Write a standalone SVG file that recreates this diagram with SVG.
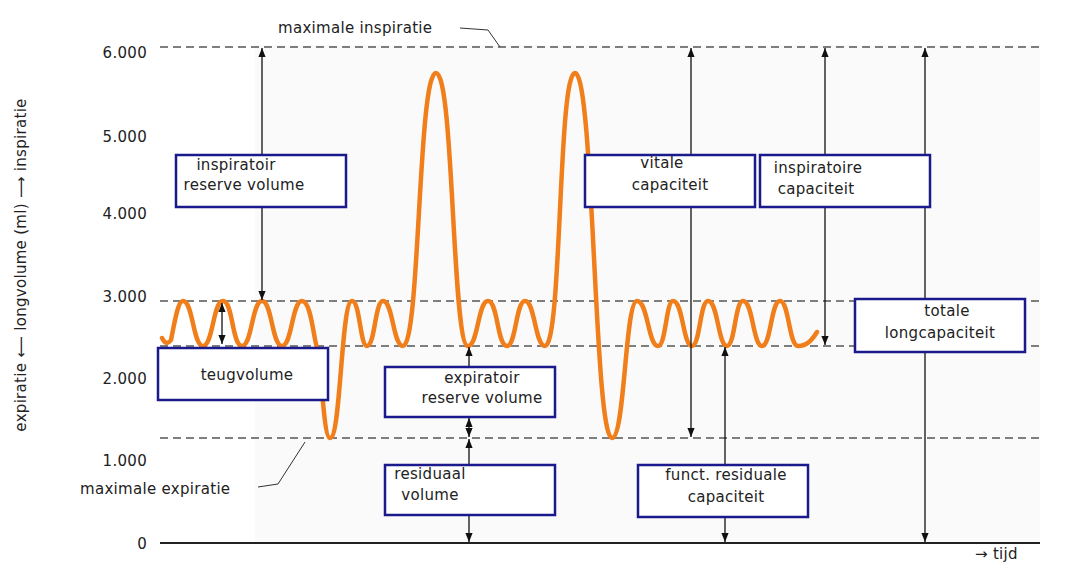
<svg xmlns="http://www.w3.org/2000/svg" width="1076" height="586" viewBox="0 0 1076 586">
<defs>
<marker id="ah" viewBox="0 0 10 10" refX="10" refY="5" markerWidth="7" markerHeight="7" orient="auto-start-reverse"><path d="M0,1 L10,5 L0,9 z" fill="#111"/></marker>
<style>
text{font-family:"DejaVu Sans","Liberation Sans",sans-serif;font-size:15px;fill:#222;letter-spacing:0.3px}
.d{stroke:#555;stroke-width:1.3;stroke-dasharray:8,5;fill:none}
.a{stroke:#111;stroke-width:1.3;fill:none;marker-start:url(#ah);marker-end:url(#ah)}
.b{fill:#fff;stroke:#1a1a8c;stroke-width:2.5}
</style>
</defs>
<rect width="1076" height="586" fill="#fff"/>
<rect x="255" y="45" width="785" height="498" fill="#fafafa"/>
<g id="axis">
<line class="d" x1="160" y1="47" x2="1040" y2="47"/>
<line class="d" x1="160" y1="301" x2="1040" y2="301"/>
<line class="d" x1="160" y1="346" x2="1040" y2="346"/>
<line class="d" x1="160" y1="438" x2="1040" y2="438"/>
<line x1="160" y1="543" x2="1040" y2="543" stroke="#222" stroke-width="2"/>
<text x="147" y="58" text-anchor="end">6.000</text>
<text x="147" y="142" text-anchor="end">5.000</text>
<text x="147" y="219" text-anchor="end">4.000</text>
<text x="147" y="302" text-anchor="end">3.000</text>
<text x="147" y="384" text-anchor="end">2.000</text>
<text x="147" y="466" text-anchor="end">1.000</text>
<text x="147" y="549" text-anchor="end">0</text>
<text transform="translate(26,265) rotate(-90)" text-anchor="middle">expiratie ⟵ longvolume (ml) ⟶ inspiratie</text>
<text x="975" y="559">→ tijd</text>
<text x="278" y="33">maximale inspiratie</text>
<path d="M460,28 L488,30 L500,47" stroke="#333" fill="none"/>
<text x="80" y="494">maximale expiratie</text>
<path d="M258,487 L278,484 L305,442" stroke="#333" fill="none"/>
</g>
<path id="curve" fill="none" stroke="#f07e1a" stroke-width="4.5" stroke-linecap="round" d="M162,338 C165,344 168,344 171,340 C175,320 178,301 183,301 C193,301 193,346 203,346 C213,346 213,301 223,301 C233,301 232,346 242,346 C252,346 252,301 262,301 C272,301 272,346 282,346 C292,346 292,301 302,301 C312,301 314,346 318,350 C322,380 324,438 330,438 C341,438 341,301 352,301 C360,301 360,346 367,346 C375,346 375,301 383,301 C393,301 393,346 403,346 C420,346 418,73 436,73 C454,73 452,346 468,346 C478,346 478,301 488,301 C498,301 497,346 507,346 C516,346 516,301 525,301 C535,301 535,346 545,346 C562,346 558,73 575,73 C594,73 594,438 612,438 C625,438 625,301 637,301 C648,301 648,346 658,346 C666,346 666,301 673,301 C683,301 683,346 692,346 C700,346 700,301 708,301 C718,301 718,346 727,346 C735,346 735,301 743,301 C753,301 753,346 762,346 C771,346 771,301 780,301 C789,301 789,346 798,346 C807,346 812,340 817,332"/>
<g id="connectors">
<line class="a" x1="262" y1="48" x2="262" y2="300"/>
<line class="a" x1="222" y1="303" x2="222" y2="344"/>
<line x1="469" y1="347" x2="469" y2="367" stroke="#111" stroke-width="1.3" marker-start="url(#ah)"/>
<line class="a" x1="469" y1="418" x2="469" y2="437"/>
<line class="a" x1="469" y1="439" x2="469" y2="542"/>
<line class="a" x1="691" y1="48" x2="691" y2="437"/>
<line class="a" x1="725" y1="347" x2="725" y2="542"/>
<line class="a" x1="825" y1="48" x2="825" y2="345"/>
<line class="a" x1="925" y1="48" x2="925" y2="542"/>
</g>
<g id="irv"><rect class="b" x="176" y="155" width="170" height="52"/><text x="236" y="170" text-anchor="middle">inspiratoir</text><text x="244" y="190" text-anchor="middle">reserve volume</text></g>
<g id="tv"><rect class="b" x="158" y="348" width="170" height="52"/><text x="247" y="380" text-anchor="middle">teugvolume</text></g>
<g id="erv"><rect class="b" x="385" y="367" width="170" height="50"/><text x="482" y="383" text-anchor="middle">expiratoir</text><text x="482" y="403" text-anchor="middle">reserve volume</text></g>
<g id="rv"><rect class="b" x="385" y="465" width="170" height="50"/><text x="430" y="479" text-anchor="middle">residuaal</text><text x="430" y="500" text-anchor="middle">volume</text></g>
<g id="vc"><rect class="b" x="585" y="155" width="170" height="52"/><text x="662" y="168" text-anchor="middle">vitale</text><text x="670" y="190" text-anchor="middle">capaciteit</text></g>
<g id="ic"><rect class="b" x="760" y="155" width="170" height="52"/><text x="818" y="173" text-anchor="middle">inspiratoire</text><text x="816" y="194" text-anchor="middle">capaciteit</text></g>
<g id="tlc"><rect class="b" x="855" y="299" width="170" height="53"/><text x="947" y="316" text-anchor="middle">totale</text><text x="940" y="338" text-anchor="middle">longcapaciteit</text></g>
<g id="frc"><rect class="b" x="638" y="465" width="170" height="52"/><text x="726" y="480" text-anchor="middle">funct. residuale</text><text x="726" y="502" text-anchor="middle">capaciteit</text></g>
</svg>
